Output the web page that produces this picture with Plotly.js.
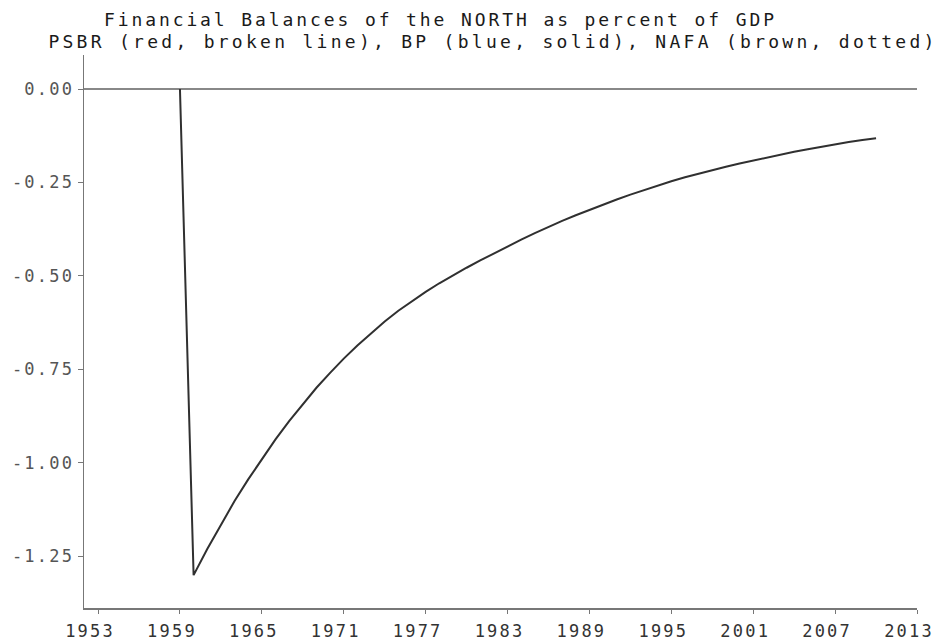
<!DOCTYPE html>
<html>
<head>
<meta charset="utf-8">
<script src="https://cdn.plot.ly/plotly-3.0.1.min.js"></script>
<style>
html, body { margin: 0; padding: 0; background: #fff; }
#chart { width: 938px; height: 641px; }
.main-svg .xtick text, .main-svg .ytick text { letter-spacing: 2.2px; }
</style>
</head>
<body>
<div id="chart"></div>
<script>
// Years (annual) and the single visible balance series (percent of GDP)
const years = [1959, 1960, 1961, 1962, 1963, 1964, 1965, 1966, 1967, 1968, 1969,
  1970, 1971, 1972, 1973, 1974, 1975, 1976, 1977, 1978, 1979,
  1980, 1981, 1982, 1983, 1984, 1985, 1986, 1987, 1988, 1989,
  1990, 1991, 1992, 1993, 1994, 1995, 1996, 1997, 1998, 1999,
  2000, 2001, 2002, 2003, 2004, 2005, 2006, 2007, 2008, 2009, 2010];
const balance = [0.00, -1.300, -1.230, -1.164, -1.102, -1.044, -0.989, -0.937, -0.888, -0.842, -0.799,
  -0.759, -0.721, -0.686, -0.653, -0.622, -0.593, -0.567, -0.5425, -0.5195, -0.498,
  -0.478, -0.4585, -0.4395, -0.421, -0.403, -0.3855, -0.3685, -0.3525, -0.3375, -0.323,
  -0.309, -0.2955, -0.2825, -0.270, -0.258, -0.2465, -0.2362, -0.2264, -0.2170, -0.2080,
  -0.1994, -0.1911, -0.1831, -0.1754, -0.1680, -0.1609, -0.1541, -0.1477, -0.1417, -0.1361, -0.1315];
const xTicks = [1953, 1959, 1965, 1971, 1977, 1983, 1989, 1995, 2001, 2007, 2013];
const yTicks = [0, -0.25, -0.5, -0.75, -1.0, -1.25];
const yTickText = ["0.00", "-0.25", "-0.50", "-0.75", "-1.00", "-1.25"];

const mono = "DejaVu Sans Mono, Liberation Mono, monospace";

const data = [{
  x: years, y: balance, type: "scatter", mode: "lines",
  line: { color: "#303030", width: 2 },
  hoverinfo: "x+y", showlegend: false
}];

const layout = {
  width: 938, height: 641,
  margin: { l: 84, r: 21, t: 55, b: 33 },
  paper_bgcolor: "#ffffff", plot_bgcolor: "#ffffff",
  title: {
    text: "Financial Balances of the NORTH as percent of GDP",
    font: { family: mono, size: 18, color: "#1a1a1a" },
    xref: "container", x: 0.468, xanchor: "center",
    yref: "container", y: 0.969, yanchor: "middle"
  },
  annotations: [{
    text: "PSBR (red, broken line), BP (blue, solid), NAFA (brown, dotted)",
    font: { family: mono, size: 18, color: "#1a1a1a" },
    xref: "paper", x: 0.4886, xanchor: "center",
    yref: "paper", y: 1.024, yanchor: "middle",
    showarrow: false
  }],
  xaxis: {
    range: [1951.97, 2013], tickvals: xTicks, ticktext: xTicks.map(String),
    showgrid: false, zeroline: false, showline: true, linecolor: "#777", linewidth: 1.5,
    ticks: "outside", ticklen: 4, tickcolor: "#777", tickwidth: 1,
    tickfont: { family: mono, size: 17, color: "#333" },
    ticklabelstandoff: 3, ticklabelshift: -8, ticklabeloverflow: "allow"
  },
  yaxis: {
    range: [-1.388, 0.091], tickvals: yTicks, ticktext: yTickText,
    showgrid: false, zeroline: true, zerolinecolor: "#888", zerolinewidth: 1.5,
    showline: true, linecolor: "#777", linewidth: 1.5,
    ticks: "outside", ticklen: 5, tickcolor: "#777", tickwidth: 1,
    tickfont: { family: mono, size: 17, color: "#555" }
  }
};

Plotly.newPlot("chart", data, layout, { displayModeBar: false, staticPlot: true }).then(function (gd) {
  // stretch the two heading lines to the wide spacing of the original terminal font
  const t = gd.querySelector("text.gtitle");
  if (t) { t.setAttribute("textLength", "670"); t.setAttribute("lengthAdjust", "spacing"); }
  const a = gd.querySelector("g.annotation text");
  if (a) { a.setAttribute("textLength", "886"); a.setAttribute("lengthAdjust", "spacing"); }
});
</script>
</body>
</html>
